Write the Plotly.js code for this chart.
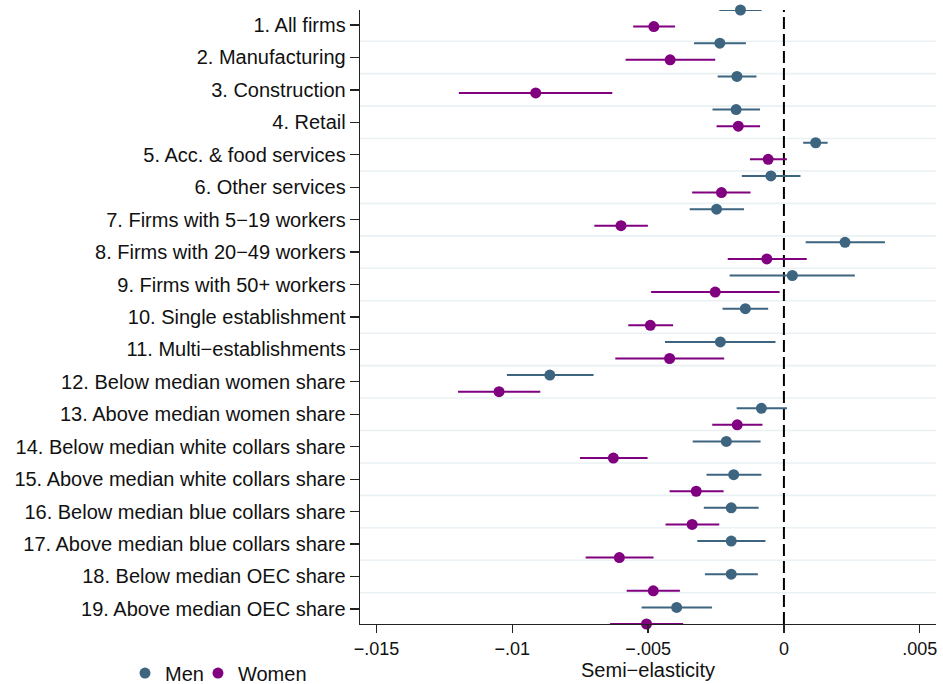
<!DOCTYPE html>
<html>
<head>
<meta charset="utf-8">
<script src="https://cdn.plot.ly/plotly-3.0.1.min.js"></script>
<style>html,body{margin:0;padding:0;background:#fff;}#chart{width:943px;height:684px;}</style>
</head>
<body>
<div id="chart"></div>
<script>
// Category labels (top to bottom)
const categories = [
  "1. All firms",
  "2. Manufacturing",
  "3. Construction",
  "4. Retail",
  "5. Acc. & food services",
  "6. Other services",
  "7. Firms with 5\u221219 workers",
  "8. Firms with 20\u221249 workers",
  "9. Firms with 50+ workers",
  "10. Single establishment",
  "11. Multi\u2212establishments",
  "12. Below median women share",
  "13. Above median women share",
  "14. Below median white collars share",
  "15. Above median white collars share",
  "16. Below median blue collars share",
  "17. Above median blue collars share",
  "18. Below median OEC share",
  "19. Above median OEC share"
];

// Men: point estimate and 95% CI
const menCoef = [-0.00160, -0.00236, -0.00173, -0.00176, 0.00117, -0.00048, -0.00248, 0.00225, 0.00031, -0.00142,
                 -0.00234, -0.00862, -0.00083, -0.00212, -0.00185, -0.00194, -0.00194, -0.00194, -0.00395];
const menLo   = [-0.00238, -0.00331, -0.00244, -0.00263, 0.00071, -0.00155, -0.00347, 0.00080, -0.00200, -0.00226,
                 -0.00438, -0.01020, -0.00174, -0.00336, -0.00285, -0.00295, -0.00319, -0.00291, -0.00524];
const menHi   = [-0.00082, -0.00140, -0.00101, -0.00088, 0.00161, 0.00061, -0.00147, 0.00372, 0.00261, -0.00058,
                 -0.00031, -0.00701, 0.00011, -0.00086, -0.00083, -0.00093, -0.00068, -0.00096, -0.00265];

// Women: point estimate and 95% CI
const womenCoef = [-0.00479, -0.00419, -0.00914, -0.00168, -0.00058, -0.00230, -0.00600, -0.00063, -0.00253, -0.00492,
                   -0.00421, -0.01049, -0.00172, -0.00628, -0.00323, -0.00338, -0.00606, -0.00481, -0.00506];
const womenLo   = [-0.00555, -0.00583, -0.01197, -0.00248, -0.00125, -0.00338, -0.00698, -0.00207, -0.00489, -0.00573,
                   -0.00621, -0.01200, -0.00264, -0.00751, -0.00421, -0.00436, -0.00730, -0.00579, -0.00640];
const womenHi   = [-0.00401, -0.00253, -0.00632, -0.00088, 0.00011, -0.00123, -0.00501, 0.00084, -0.00016, -0.00408,
                   -0.00220, -0.00897, -0.00079, -0.00502, -0.00222, -0.00238, -0.00480, -0.00383, -0.00371];

const xTickVals = [-0.015, -0.01, -0.005, 0, 0.005];
const xTickText = ["\u2212.015", "\u2212.01", "\u2212.005", "0", ".005"];

// vertical layout: 38 equally spaced slots
const yTop = 0.5376, yBottom = 19.465;
const step = (yBottom - yTop) / (2 * categories.length - 1);
const menY = categories.map((c, i) => yTop + 2 * i * step);
const womenY = categories.map((c, i) => yTop + (2 * i + 1) * step);
const tickVals = categories.map((c, i) => i + 1);

const menColor = "#3d6580";
const womenColor = "#800080";
const font = "Liberation Sans, Arial, Helvetica, sans-serif";

function errTrace(name, x, lo, hi, y, color, legendId) {
  return {
    type: "scatter", mode: "markers", name: name, legend: legendId,
    x: x, y: y,
    cliponaxis: false,
    marker: {color: color, size: 11, line: {width: 0}},
    error_x: {
      type: "data", symmetric: false,
      array: x.map((v, i) => hi[i] - v),
      arrayminus: x.map((v, i) => v - lo[i]),
      color: color, thickness: 2, width: 0
    }
  };
}

const traces = [
  errTrace("Men", menCoef, menLo, menHi, menY, menColor, "legend"),
  errTrace("Women", womenCoef, womenLo, womenHi, womenY, womenColor, "legend2")
];

const shapes = [];
for (let i = 1; i < categories.length; i++) {
  shapes.push({type: "line", layer: "below", xref: "paper", x0: 0, x1: 1, yref: "y", y0: i + 0.5, y1: i + 0.5,
               line: {color: "#eaf1f4", width: 1.6}});
}
shapes.push({type: "line", layer: "below", xref: "x", x0: 0, x1: 0, yref: "paper", y0: 0, y1: 1,
             line: {color: "#000", width: 2, dash: "12px,5px"}});

const legendBase = {orientation: "h", xanchor: "left", y: -0.08, yanchor: "middle",
                    font: {family: font, size: 20, color: "#111"}, bgcolor: "rgba(0,0,0,0)"};

const layout = {
  width: 943, height: 684,
  margin: {l: 360, r: 7, t: 10, b: 60, autoexpand: false},
  paper_bgcolor: "#fff", plot_bgcolor: "#fff",
  font: {family: font, size: 20, color: "#111"},
  showlegend: true,
  legend: Object.assign({}, legendBase, {x: -0.408}),
  legend2: Object.assign({}, legendBase, {x: -0.2813}),
  xaxis: {
    range: [-0.01561, 0.0056],
    automargin: false,
    tickmode: "array", tickvals: xTickVals, ticktext: xTickText,
    ticks: "outside", ticklen: 8, tickwidth: 1.3, tickcolor: "#222",
    showline: true, linecolor: "#222", linewidth: 1.3,
    showgrid: false, zeroline: false,
    tickfont: {family: font, size: 18, color: "#111"},
    title: {text: "Semi\u2212elasticity", font: {family: font, size: 20, color: "#111"}, standoff: 4}
  },
  yaxis: {
    range: [yBottom, yTop],
    automargin: false,
    tickmode: "array", tickvals: tickVals, ticktext: categories,
    ticks: "outside", ticklen: 9, tickwidth: 1.3, tickcolor: "#222",
    showline: true, linecolor: "#222", linewidth: 1.3,
    showgrid: false, zeroline: false,
    tickfont: {family: font, size: 20, color: "#111"}
  },
  shapes: shapes
};

Plotly.newPlot("chart", traces, layout, {displayModeBar: false, staticPlot: true});
</script>
</body>
</html>
